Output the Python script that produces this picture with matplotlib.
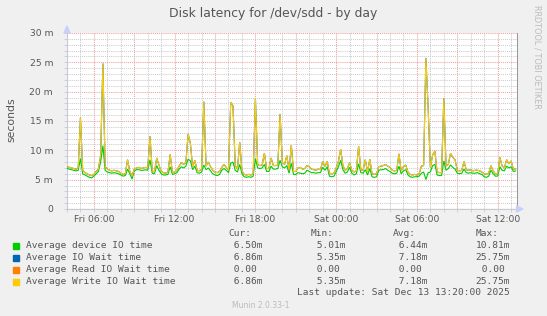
import matplotlib
matplotlib.use("Agg")
import matplotlib.pyplot as plt
import matplotlib.dates as mdates
from matplotlib.ticker import MultipleLocator, FuncFormatter
import numpy as np
import pandas as pd

# 10 minute samples, Fri 04:00 .. Sat 13:20 (values in milliseconds)
times = pd.date_range("2025-12-12 04:00", "2025-12-13 13:20", freq="10min")

write_ms = [
    7.2, 7.1, 7.0, 6.9, 6.8, 7.0,
    15.6, 6.6, 6.2, 6.0, 5.8, 5.7,
    5.9, 6.4, 6.8, 9.1, 24.8, 7.2,
    6.8, 6.6, 6.5, 6.6, 6.5, 6.4,
    6.1, 5.9, 6.0, 8.4, 6.4, 5.6,
    6.8, 7.0, 7.1, 6.9, 7.0, 7.1,
    7.0, 12.4, 6.5, 6.3, 8.7, 7.5,
    6.4, 6.2, 6.1, 6.3, 9.3, 6.2,
    6.3, 6.6, 7.3, 7.9, 7.6, 7.9,
    12.8, 11.2, 7.2, 8.3, 6.6, 6.5,
    6.8, 18.3, 7.3, 8.0, 7.2, 6.6,
    6.3, 6.2, 6.4, 7.1, 7.6, 7.1,
    6.6, 18.2, 17.6, 7.4, 6.8, 11.4,
    6.5, 5.9, 5.8, 5.9, 5.8, 6.0,
    18.9, 7.6, 7.4, 7.5, 9.5, 6.9,
    6.9, 8.7, 7.4, 7.4, 7.5, 16.2,
    7.9, 7.6, 9.1, 6.6, 10.9, 6.4,
    6.4, 7.0, 7.1, 6.8, 6.9, 7.4,
    7.2, 6.8, 6.7, 6.6, 6.8, 6.7,
    8.1, 7.2, 8.1, 6.1, 6.0, 6.1,
    7.0, 8.1, 10.2, 7.4, 6.6, 6.9,
    7.9, 6.6, 6.3, 6.5, 10.7, 6.7,
    6.6, 8.4, 6.3, 8.5, 6.0, 5.9,
    6.0, 7.2, 7.3, 7.4, 7.6, 7.3,
    7.1, 6.6, 6.5, 6.6, 9.4, 6.5,
    7.2, 7.5, 6.3, 5.9, 5.8, 5.9,
    5.8, 6.0, 7.3, 7.4, 25.75, 17.3,
    7.1, 9.2, 9.9, 6.3, 6.2, 6.2,
    18.9, 7.3, 7.6, 9.5, 8.8, 8.4,
    6.6, 6.5, 6.6, 8.1, 6.7, 6.6,
    6.7, 6.5, 6.6, 6.6, 6.5, 6.3,
    6.0, 5.9, 6.1, 7.4, 6.5, 6.0,
    6.0, 8.8, 7.3, 7.0, 8.4, 7.7,
    8.2, 6.8, 6.86,
]

device_ms = [
    6.9, 6.8, 6.7, 6.6, 6.5, 6.6,
    8.6, 6.0, 5.8, 5.6, 5.4, 5.3,
    5.6, 6.0, 6.4, 8.0, 10.81, 6.6,
    6.3, 6.2, 6.1, 6.2, 6.1, 6.0,
    5.8, 5.6, 5.7, 6.8, 6.0, 5.1,
    6.5, 6.7, 6.7, 6.6, 6.6, 6.7,
    6.6, 8.4, 6.1, 6.0, 7.4, 6.6,
    6.0, 5.8, 5.8, 5.9, 7.2, 5.9,
    6.0, 6.2, 6.8, 7.2, 7.0, 7.3,
    8.5, 8.2, 6.7, 7.3, 6.2, 6.1,
    6.3, 7.5, 6.7, 7.0, 6.5, 6.0,
    5.8, 5.7, 5.9, 6.6, 6.9, 6.6,
    6.2, 7.8, 8.0, 6.6, 6.3, 7.6,
    6.0, 5.5, 5.4, 5.5, 5.4, 5.6,
    8.6, 7.0, 6.9, 7.0, 7.6, 6.4,
    6.4, 7.3, 6.8, 6.8, 6.9, 8.3,
    7.2, 7.0, 7.4, 6.1, 7.8, 5.9,
    5.9, 6.2, 6.1, 6.0, 6.1, 6.6,
    6.4, 6.2, 6.2, 6.1, 6.2, 6.2,
    7.1, 6.6, 7.2, 5.6, 5.5, 5.6,
    6.3, 7.2, 8.3, 6.7, 6.1, 6.3,
    7.1, 6.1, 5.8, 6.0, 7.7, 6.2,
    6.1, 6.7, 5.8, 6.9, 5.5, 5.4,
    5.5, 6.6, 6.7, 6.7, 6.9, 6.6,
    6.4, 6.1, 6.0, 6.1, 7.3, 6.0,
    6.5, 6.7, 5.8, 5.5, 5.4, 5.5,
    5.5, 5.6, 6.1, 6.3, 5.01, 6.2,
    6.3, 7.4, 7.6, 5.8, 5.7, 5.7,
    8.2, 6.6, 6.9, 7.5, 7.1, 6.8,
    6.1, 6.0, 6.1, 6.8, 6.2, 6.1,
    6.2, 6.1, 6.1, 6.2, 6.0, 5.9,
    5.5, 5.4, 5.6, 6.6, 6.0, 5.6,
    5.6, 7.2, 6.6, 6.5, 7.3, 7.0,
    7.2, 6.4, 6.50,
]

# reads are always zero, so IO wait == write wait
read_ms = [0.0] * len(write_ms)
iowait_ms = list(write_ms)

labels = ["Average device IO time", "Average IO Wait time",
          "Average Read IO Wait time", "Average Write IO Wait time"]
colors = ["#00CC00", "#0066B3", "#FF8000", "#FFCC00"]
cur = [" 6.50m", " 6.86m", " 0.00 ", " 6.86m"]
mins = [" 5.01m", " 5.35m", " 0.00 ", " 5.35m"]
avgs = [" 6.44m", " 7.18m", " 0.00 ", " 7.18m"]
maxs = ["10.81m", "25.75m", " 0.00 ", "25.75m"]

W, H = 547, 316
fig = plt.figure(figsize=(W / 100, H / 100), dpi=100, facecolor="#F0F0F0")
ax = fig.add_axes([67 / W, 1 - 209 / H, (516.5 - 67) / W, (209 - 33) / H])
ax.set_facecolor("white")

series = [device_ms, iowait_ms, read_ms, write_ms]
for vals, col in zip(series, colors):
    ax.plot(times, vals, color=col, lw=0.8, solid_joinstyle="miter", zorder=3)

ax.set_xlim(pd.Timestamp("2025-12-12 04:00"), pd.Timestamp("2025-12-13 13:24"))
ax.set_ylim(0, 30)

ax.xaxis.set_major_locator(mdates.HourLocator(byhour=range(0, 24, 3)))
ax.xaxis.set_minor_locator(mdates.HourLocator())


def xfmt(v, pos):
    d = mdates.num2date(v)
    if d.hour % 6:
        return ""
    return d.strftime("%a %H:%M")


ax.xaxis.set_major_formatter(FuncFormatter(xfmt))
ax.yaxis.set_major_locator(MultipleLocator(5))
ax.yaxis.set_minor_locator(MultipleLocator(1))
ax.yaxis.set_major_formatter(FuncFormatter(lambda v, p: "0" if v == 0 else "%d m" % v))

ax.grid(which="minor", color="#CCCCCC", lw=0.75, ls=(0, (1, 1)), zorder=1)
ax.grid(which="major", color="#F0A0A0", lw=0.75, ls=(0, (1, 1)), zorder=2)
ax.set_axisbelow(True)

ax.tick_params(which="both", length=2, width=0.6, color="#C8C8D8", direction="out",
               labelsize=6.6, labelcolor="#555555", pad=2)
ax.tick_params(axis="y", which="major", pad=8)

ax.spines["top"].set_visible(False)
ax.spines["left"].set_color("#C8C8D8")
ax.spines["bottom"].set_color("#C8C8D8")
ax.spines["right"].set_color("#999999")
for s in ax.spines.values():
    s.set_linewidth(0.75)

# axis arrows
fig.patches.append(plt.Polygon([[64 / W, 1 - 33 / H], [70 / W, 1 - 33 / H], [67 / W, 1 - 26 / H]],
                               closed=True, transform=fig.transFigure, color="#C8D0F8"))
fig.patches.append(plt.Polygon([[516.5 / W, 1 - 206 / H], [516.5 / W, 1 - 212 / H], [523 / W, 1 - 209 / H]],
                               closed=True, transform=fig.transFigure, color="#C8D0F8"))

fig.text(273.5 / W, 1 - 14 / H, "Disk latency for /dev/sdd - by day", ha="center", va="center",
         fontsize=8.9, color="#555555")
fig.text(11 / W, 1 - 120 / H, "seconds", rotation=90, ha="center", va="center",
         fontsize=7.8, color="#555555")
fig.text(537 / W, 1 - 56.5 / H, "RRDTOOL / TOBI OETIKER", rotation=270, ha="center", va="center",
         fontsize=5.9, color="#BBBBBB")

mono = dict(family="DejaVu Sans Mono", fontsize=6.8, color="#555555", va="center")
col_x = [228, 310.7, 393, 475.7]
for x, head in zip(col_x, ["Cur:", "Min:", "Avg:", "Max:"]):
    fig.text(x / W, 1 - 234 / H, head, ha="left", **mono)

rows_y = [245.7, 257.7, 269.7, 281.7]
for i, y in enumerate(rows_y):
    fig.patches.append(plt.Rectangle(((13 / W), 1 - (y + 3) / H), 6 / W, 6 / H,
                                     transform=fig.transFigure, color=colors[i]))
    fig.text(25.7 / W, 1 - y / H, labels[i], ha="left", **mono)
    for x, col in zip(col_x, [cur, mins, avgs, maxs]):
        fig.text(x / W, 1 - y / H, col[i], ha="left", **mono)

fig.text(510 / W, 1 - 292.7 / H, "Last update: Sat Dec 13 13:20:00 2025", ha="right", **mono)
fig.text(261 / W, 1 - 305 / H, "Munin 2.0.33-1", ha="center", va="center",
         fontsize=5.5, color="#BBBBBB")

fig.savefig("out.png", dpi=100, facecolor=fig.get_facecolor())
